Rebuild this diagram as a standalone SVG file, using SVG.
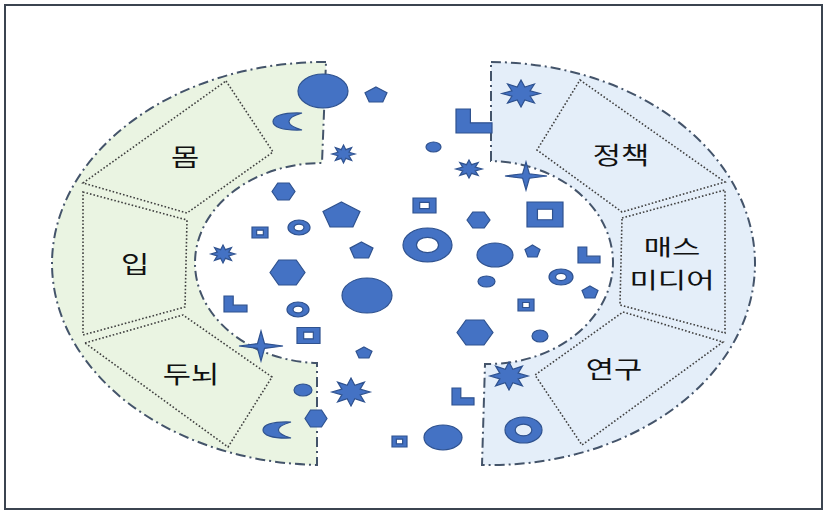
<svg xmlns="http://www.w3.org/2000/svg" xmlns:xlink="http://www.w3.org/1999/xlink" width="827" height="513" viewBox="0 0 827 513">
<style>
.s{fill:#4472C4;stroke:#2F528F;stroke-width:1.2;vector-effect:non-scaling-stroke}
.band{stroke:#44546A;stroke-width:2;stroke-dasharray:10 4 2 4}
.seg{fill:none;stroke:#404040;stroke-width:1.6;stroke-dasharray:1.6 2}
.t{font-family:"Noto Sans CJK KR","Noto Sans",sans-serif;font-size:24px;fill:#111;text-anchor:middle}
.t2{font-size:22px}
</style>
<defs>
<polygon id="star8" class="s" points="0,-1 0.2,-0.48 0.707,-0.707 0.48,-0.2 1,0 0.48,0.2 0.707,0.707 0.2,0.48 0,1 -0.2,0.48 -0.707,0.707 -0.48,0.2 -1,0 -0.48,-0.2 -0.707,-0.707 -0.2,-0.48"/>
<polygon id="star4" class="s" points="0,-1 0.16,-0.16 1,0 0.16,0.16 0,1 -0.16,0.16 -1,0 -0.16,-0.16"/>
<polygon id="pent" class="s" points="0,-1 1,-0.236 0.618,1 -0.618,1 -1,-0.236"/>
<polygon id="hex" class="s" points="-1,0 -0.5,-1 0.5,-1 1,0 0.5,1 -0.5,1"/>
<path id="moon" class="s" d="M1,-1 C-0.4,-1.1 -1,-0.6 -1,0 C-1,0.6 -0.4,1.1 1,1 C0.4,0.7 0.1,0.4 0.1,0 C0.1,-0.4 0.4,-0.7 1,-1 Z"/>
<path id="donut" class="s" fill-rule="evenodd" d="M-1,0 A1,1 0 1,0 1,0 A1,1 0 1,0 -1,0 Z M-0.45,0 A0.45,0.45 0 1,0 0.45,0 A0.45,0.45 0 1,0 -0.45,0 Z"/>
<path id="frame" class="s" fill-rule="evenodd" d="M-1,-1 H1 V1 H-1 Z M-0.42,-0.42 H0.42 V0.42 H-0.42 Z"/>
<polygon id="lshape" class="s" points="-1,-1 -0.2,-1 -0.2,0.15 1,0.15 1,1 -1,1"/>
</defs>
<rect x="5" y="5" width="817" height="504" fill="#fff" stroke="#3B4450" stroke-width="2"/>
<g id="bands">
<path id="band-left" class="band" fill="#EAF4E2" d="M326,62 A273,202 0 0,0 52,263 A273,202 0 0,0 317,465 L317,363 A127,100 0 0,1 195,262 A127,100 0 0,1 322,163 Z"/>
<path id="band-right" class="band" fill="#E4EEF9" d="M491,62 A265,202 0 0,1 755,263 A265,202 0 0,1 482,465 L485,364 A125,102 0 0,0 613,262 A125,102 0 0,0 491,161 Z"/>
</g>
<g id="node-mom"><polygon class="seg" points="226,81 273,152 187,213 83,183"/><text class="t" transform="translate(185,166) scale(1.28,1)">몸</text></g>
<g id="node-ip"><polygon class="seg" points="83,192 187,220 185,307 83,335"/><text class="t" transform="translate(135,273) scale(1.28,1)">입</text></g>
<g id="node-dunoe"><polygon class="seg" points="85,343 183,315 272,377 228,447"/><text class="t" transform="translate(191,383) scale(1.28,1)">두뇌</text></g>
<g id="node-jeongchaek"><polygon class="seg" points="580,80 725,182 622,212 537,150"/><text class="t" transform="translate(621,164) scale(1.28,1)">정책</text></g>
<g id="node-media"><polygon class="seg" points="622,218 725,190 725,333 620,305"/><text class="t t2" transform="translate(672,255) scale(1.4,1)">매스</text><text class="t t2" transform="translate(672,288) scale(1.4,1)">미디어</text></g>
<g id="node-yeongu"><polygon class="seg" points="623,312 723,342 582,445 535,375"/><text class="t" transform="translate(614,378) scale(1.28,1)">연구</text></g>
<g id="connectors"></g>
<g id="shapes">
<ellipse class="s" cx="323" cy="91" rx="25" ry="17"/>
<ellipse class="s" cx="367" cy="295.5" rx="25" ry="17.5"/>
<ellipse class="s" cx="303" cy="390" rx="9" ry="6"/>
<ellipse class="s" cx="433.5" cy="147" rx="7.5" ry="5"/>
<ellipse class="s" cx="495" cy="255" rx="18" ry="12"/>
<ellipse class="s" cx="486.5" cy="281.5" rx="8.5" ry="5.5"/>
<ellipse class="s" cx="540" cy="336" rx="8" ry="6"/>
<ellipse class="s" cx="443" cy="437.5" rx="19" ry="12.5"/>
<use xlink:href="#pent" transform="translate(376,94.5) scale(11,7.5)"/>
<use xlink:href="#pent" transform="translate(341.5,214.5) scale(18.5,12.5)"/>
<use xlink:href="#pent" transform="translate(361.5,250) scale(11.5,8)"/>
<use xlink:href="#pent" transform="translate(364,352.5) scale(8,5.5)"/>
<use xlink:href="#pent" transform="translate(532.5,251) scale(7.5,6)"/>
<use xlink:href="#pent" transform="translate(590,292) scale(8,6)"/>
<use xlink:href="#hex" transform="translate(283.5,191.5) scale(11.5,8.5)"/>
<use xlink:href="#hex" transform="translate(287.5,272.5) scale(17.5,12.5)"/>
<use xlink:href="#hex" transform="translate(316,418.5) scale(11,8.5)"/>
<use xlink:href="#hex" transform="translate(478.5,220) scale(11.5,8)"/>
<use xlink:href="#hex" transform="translate(475,332.5) scale(18,12.5)"/>
<use xlink:href="#star8" transform="translate(343.5,154) scale(11.5,9)"/>
<use xlink:href="#star8" transform="translate(223,254) scale(12,9)"/>
<use xlink:href="#star8" transform="translate(351,392) scale(19,14)"/>
<use xlink:href="#star8" transform="translate(521,93.5) scale(19,13.5)"/>
<use xlink:href="#star8" transform="translate(469,169) scale(13,9)"/>
<use xlink:href="#star8" transform="translate(509,376) scale(19,14)"/>
<use xlink:href="#star4" transform="translate(261,346) scale(22,15)"/>
<use xlink:href="#star4" transform="translate(526,176) scale(21,14)"/>
<use xlink:href="#moon" transform="translate(287.5,121.5) scale(14.5,8.5)"/>
<use xlink:href="#moon" transform="translate(277,430) scale(14,8)"/>
<use xlink:href="#donut" transform="translate(299,227.5) scale(11,7.5)"/>
<use xlink:href="#donut" transform="translate(298,309.5) scale(11,7.5)"/>
<use xlink:href="#donut" transform="translate(427.5,245) scale(24.5,17)"/>
<use xlink:href="#donut" transform="translate(561,277) scale(12,8)"/>
<use xlink:href="#donut" transform="translate(523.5,430) scale(18.5,13)"/>
<use xlink:href="#frame" transform="translate(260,232.5) scale(8,5.5)"/>
<use xlink:href="#frame" transform="translate(308.5,335.5) scale(11.5,8)"/>
<use xlink:href="#frame" transform="translate(399.5,441.5) scale(7.5,5.5)"/>
<use xlink:href="#frame" transform="translate(424.5,205.5) scale(11.5,7.5)"/>
<use xlink:href="#frame" transform="translate(545,214.5) scale(18,12.5)"/>
<use xlink:href="#frame" transform="translate(526,305) scale(8,6)"/>
<use xlink:href="#lshape" transform="translate(235.5,304) scale(11.5,8)"/>
<use xlink:href="#lshape" transform="translate(474,121) scale(18,12)"/>
<use xlink:href="#lshape" transform="translate(589,255) scale(11,8)"/>
<use xlink:href="#lshape" transform="translate(463,396.5) scale(11,8.5)"/>
</g>
</svg>
